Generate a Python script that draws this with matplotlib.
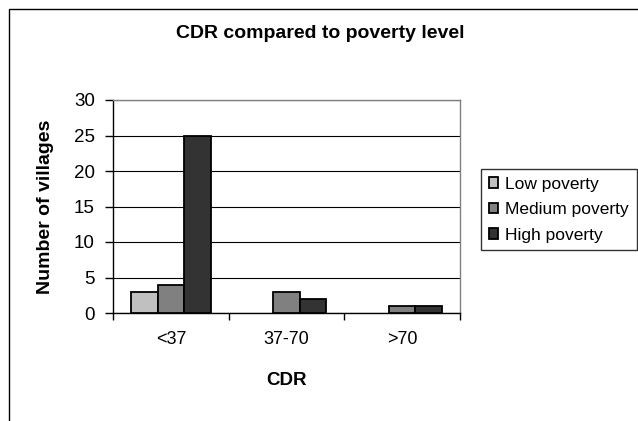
import numpy as np
import matplotlib.pyplot as plt
from matplotlib.patches import Rectangle


# ============================================================
# データ
# ============================================================
CATEGORIES = ["<37", "37-70", ">70"]
SERIES_NAMES = ["Low poverty", "Medium poverty", "High poverty"]
LOW_POVERTY = [3, 0, 0]
MEDIUM_POVERTY = [4, 3, 1]
HIGH_POVERTY = [25, 2, 1]

COLORS = ["#c0c0c0", "#808080", "#333333"]
BAR_W = 0.23

plt.rcParams["font.family"] = ["Liberation Sans", "DejaVu Sans"]


# ============================================================
# 描画
# ============================================================
fig = plt.figure(figsize=(6.38, 4.21), dpi=100)

# 外枠 (右と下は画像の外まで続いている)
fig.patches.append(
    Rectangle(
        (9 / 638, -0.05),
        1.2,
        1 - 9 / 421 + 0.05,
        transform=fig.transFigure,
        fill=False,
        edgecolor="black",
        linewidth=1.0,
    )
)

ax = fig.add_axes([113 / 638, 1 - 313 / 421, 347 / 638, 213 / 421])

x = np.arange(len(CATEGORIES))
values = [LOW_POVERTY, MEDIUM_POVERTY, HIGH_POVERTY]

for i, (name, vals, c) in enumerate(zip(SERIES_NAMES, values, COLORS)):
    # 0 の棒は描かない (枠線だけが残るのを防ぐ)
    h = np.array(vals, dtype=float)
    h[h == 0] = np.nan
    ax.bar(
        x + (i - 1) * BAR_W,
        h,
        width=BAR_W,
        color=c,
        edgecolor="black",
        linewidth=1.3,
        label=name,
        zorder=3,
    )

ax.set_xlim(-0.5, len(CATEGORIES) - 0.5)
ax.set_ylim(0, 30)
ax.set_yticks(np.arange(0, 31, 5))

# x の目盛り線はカテゴリ境界、ラベルは中央
ax.set_xticks(np.arange(-0.5, len(CATEGORIES), 1.0))
ax.set_xticklabels([])
ax.set_xticks(x, minor=True)
ax.set_xticklabels(CATEGORIES, minor=True, fontsize=13)
ax.tick_params(axis="x", which="major", length=5, width=1, color="black")
ax.tick_params(axis="x", which="minor", length=0, pad=13)
ax.tick_params(axis="y", length=6, width=1, pad=7, labelsize=13.5)

ax.grid(axis="y", color="black", linewidth=0.8, zorder=0)
ax.set_axisbelow(True)

for side in ["top", "right"]:
    ax.spines[side].set_color("#808080")
    ax.spines[side].set_linewidth(1.0)
for side in ["left", "bottom"]:
    ax.spines[side].set_color("black")
    ax.spines[side].set_linewidth(1.0)

ax.set_ylabel("Number of villages", fontsize=14, fontweight="bold")
ax.yaxis.set_label_coords(-0.170, 0.5)
ax.set_xlabel("CDR", fontsize=13.5, fontweight="bold")
ax.xaxis.set_label_coords(0.5, -0.277)

fig.text(
    320 / 638,
    1 - 34 / 421,
    "CDR compared to poverty level",
    ha="center",
    va="center",
    fontsize=14,
    fontweight="bold",
)

leg = ax.legend(
    loc="upper left",
    bbox_to_anchor=(481 / 638, 1 - 169 / 421),
    bbox_transform=fig.transFigure,
    fontsize=12.5,
    frameon=True,
    fancybox=False,
    handlelength=0.55,
    handleheight=0.55,
    handletextpad=0.4,
    borderpad=0.45,
    labelspacing=0.6,
    borderaxespad=0,
)
leg.get_frame().set_edgecolor("black")
leg.get_frame().set_linewidth(1.0)

fig.savefig("out.png", dpi=100)
plt.close(fig)
